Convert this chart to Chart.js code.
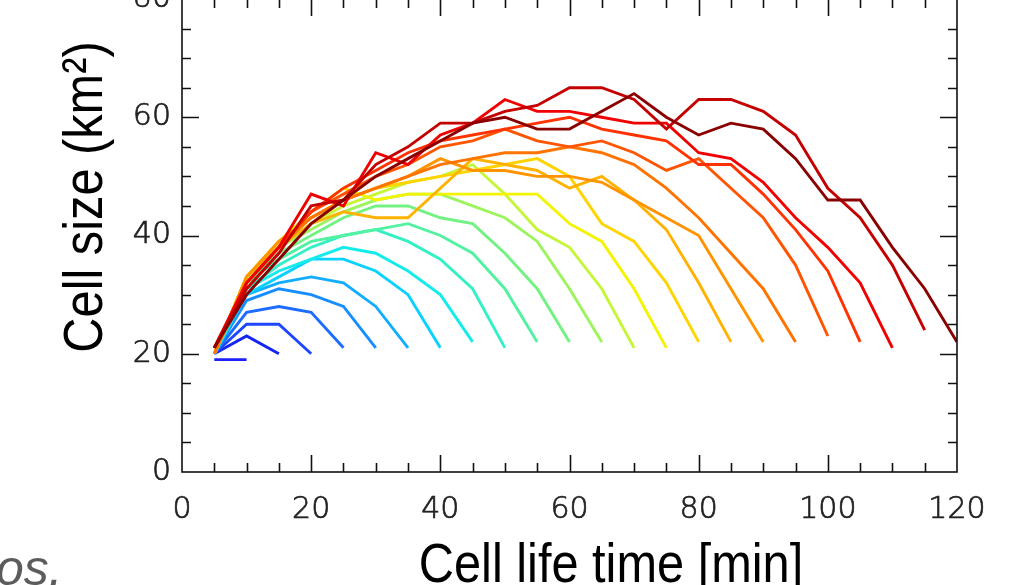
<!DOCTYPE html>
<html>
<head>
<meta charset="utf-8">
<script src="https://cdn.jsdelivr.net/npm/chart.js@4.4.1/dist/chart.umd.min.js"></script>
<style>
    html, body { margin: 0; padding: 0; background: #fff; overflow: hidden; }
    #wrap { position: relative; width: 1030px; height: 585px; overflow: hidden; }
    #chart { position: absolute; left: 0; top: -30px; }
    #note {
        position: absolute; left: -4px; top: 543px;
        font: italic 50px "Liberation Sans", Arial, sans-serif;
        line-height: 50px; color: #5c5c5c;
    }
</style>
</head>
<body>
<div id="wrap">
    <canvas id="chart" width="1030" height="615"></canvas>
    <div id="note">os.</div>
</div>
<script>
// Cell lifetimes (min) and the sampling times along each track
const lifetimes = [10, 15, 20, 25, 30, 35, 40, 45, 50, 55, 60, 65, 70, 75, 80, 85, 90, 95, 100, 105, 110, 115, 120];
const timeSteps = [5, 10, 15, 20, 25, 30, 35, 40, 45, 50, 55, 60, 65, 70, 75, 80, 85, 90, 95, 100, 105, 110, 115, 120];

// Mean cell size (km2) at each time step, one array per lifetime class
const size10  = [19, 19];
const size15  = [20, 23, 20];
const size20  = [20, 25, 25, 20];
const size25  = [20, 27, 28, 27, 21];
const size30  = [20, 29, 31, 30, 28, 21];
const size35  = [20, 30, 32, 33, 32, 28, 21];
const size40  = [20, 30, 33, 36, 36, 34, 30, 21];
const size45  = [20, 31, 34, 36, 38, 37, 34, 30, 22];
const size50  = [20, 31, 35, 38, 40, 41, 39, 36, 31, 21];
const size55  = [20, 32, 36, 39, 40, 41, 42, 40, 37, 31, 22];
const size60  = [20, 32, 37, 40, 43, 45, 45, 43, 42, 37, 31, 22];
const size65  = [20, 33, 38, 41, 44, 46, 47, 47, 45, 43, 39, 31, 22];
const size70  = [20, 33, 38, 42, 45, 47, 49, 50, 52, 47, 41, 38, 31, 21];
const size75  = [20, 33, 39, 44, 48, 46, 47, 47, 47, 47, 47, 42, 39, 31, 21];
const size80  = [20, 33, 39, 43, 46, 48, 49, 50, 51, 52, 53, 50, 42, 39, 32, 22];
const size85  = [20, 33, 38, 42, 44, 43, 43, 48, 53, 52, 51, 48, 50, 46, 41, 32, 22];
const size90  = [20, 33, 39, 43, 46, 48, 50, 53, 51, 51, 50, 50, 49, 46, 43, 40, 31, 22];
const size95  = [20, 32, 38, 43, 46, 48, 50, 52, 53, 54, 54, 55, 54, 52, 48, 43, 37, 31, 22];
const size100 = [21, 32, 38, 44, 47, 50, 52, 55, 56, 58, 56, 55, 56, 54, 51, 53, 48, 43, 35, 23];
const size105 = [21, 32, 38, 44, 48, 51, 54, 56, 57, 58, 59, 60, 58, 57, 56, 52, 52, 47, 41, 34, 22];
const size110 = [21, 32, 38, 47, 45, 54, 52, 57, 59, 63, 61, 61, 60, 59, 59, 54, 53, 49, 43, 38, 32, 21];
const size115 = [21, 31, 37, 45, 46, 52, 55, 59, 59, 61, 62, 65, 65, 63, 58, 63, 63, 61, 57, 48, 43, 35, 24];
const size120 = [21, 30, 36, 42, 46, 50, 53, 56, 59, 60, 58, 58, 61, 64, 60, 57, 59, 58, 53, 46, 46, 38, 31, 22];

const sizeSeries = [size10, size15, size20, size25, size30, size35, size40, size45, size50, size55, size60, size65,
    size70, size75, size80, size85, size90, size95, size100, size105, size110, size115, size120];

// Axis tick labels
const xTickLabels = [0, 20, 40, 60, 80, 100, 120];
const yTickLabels = [0, 20, 40, 60, 80];

// Rainbow palette, short lifetimes blue through long lifetimes dark red
const lineColors = ['#1e1eff', '#1424f5', '#1c46ff', '#1c6cff', '#168eff', '#12adff', '#0ad2ff', '#14ecec',
    '#34f0c4', '#52f2a2', '#72f282', '#9cf45e', '#c6f638', '#f4f400', '#ffd400', '#ffb200', '#ff9400',
    '#ff7400', '#ff5400', '#ff3200', '#f00000', '#c40000', '#8a0000'];

const datasets = lifetimes.map((life, i) => ({
    label: life + ' min',
    data: sizeSeries[i].map((v, k) => ({ x: timeSteps[k], y: v })),
    borderColor: lineColors[i],
    borderWidth: 2.9,
    pointRadius: 0,
    tension: 0,
    fill: false,
    order: -life
}));

// Box frame with inward ticks every 5 units, longer at labelled values
const framePlugin = {
    id: 'frame',
    afterDatasetsDraw(chart) {
        const { ctx, chartArea: a, scales: { x, y } } = chart;
        ctx.save();
        ctx.strokeStyle = '#111';
        ctx.lineWidth = 1.6;
        ctx.strokeRect(a.left, a.top, a.right - a.left, a.bottom - a.top);
        ctx.beginPath();
        for (let t = 5; t < 120; t += 5) {
            const px = Math.round(x.getPixelForValue(t)) + 0.5;
            const len = t % 20 === 0 ? 17 : 9;
            ctx.moveTo(px, a.bottom); ctx.lineTo(px, a.bottom - len);
            ctx.moveTo(px, a.top); ctx.lineTo(px, a.top + len);
        }
        for (let v = 5; v < 80; v += 5) {
            const py = Math.round(y.getPixelForValue(v)) + 0.5;
            const len = v % 20 === 0 ? 17 : 9;
            ctx.moveTo(a.left, py); ctx.lineTo(a.left + len, py);
            ctx.moveTo(a.right, py); ctx.lineTo(a.right - len, py);
        }
        ctx.stroke();

        // axis titles
        ctx.fillStyle = '#000';
        ctx.font = '56px "Liberation Sans", Arial, sans-serif';
        ctx.textAlign = 'center';
        ctx.textBaseline = 'alphabetic';
        ctx.save();
        ctx.translate(611, 612);
        ctx.scale(0.87, 1);
        ctx.fillText('Cell life time [min]', 0, 0);
        ctx.restore();
        ctx.save();
        ctx.translate(102, 227);
        ctx.rotate(-Math.PI / 2);
        ctx.scale(0.87, 1);
        ctx.fillText('Cell size (km\u00b2)', 0, 0);
        ctx.restore();
        ctx.restore();
    }
};

const tickFont = { family: '"DejaVu Sans", sans-serif', size: 30, weight: '200' };

new Chart(document.getElementById('chart'), {
    type: 'line',
    data: { datasets: datasets },
    options: {
        responsive: false,
        animation: false,
        devicePixelRatio: 1,
        layout: { padding: { left: 0, right: 73, top: 29, bottom: 0 } },
        plugins: { legend: { display: false }, tooltip: { enabled: false } },
        scales: {
            x: {
                type: 'linear',
                min: 0, max: 120,
                afterBuildTicks: (s) => { s.ticks = xTickLabels.map(v => ({ value: v })); },
                afterFit: (s) => { s.height = 113; },
                grid: { display: false, drawTicks: false },
                border: { display: false },
                ticks: { color: '#222', font: tickFont, padding: 20, maxRotation: 0,
                    textStrokeColor: '#222', textStrokeWidth: 0.7 }
            },
            y: {
                type: 'linear',
                min: 0, max: 80,
                afterBuildTicks: (s) => { s.ticks = yTickLabels.map(v => ({ value: v })); },
                afterFit: (s) => { s.width = 182; },
                grid: { display: false, drawTicks: false },
                border: { display: false },
                ticks: { color: '#222', font: tickFont, padding: 11,
                    textStrokeColor: '#222', textStrokeWidth: 0.7 }
            }
        }
    },
    plugins: [framePlugin]
});
</script>
</body>
</html>
